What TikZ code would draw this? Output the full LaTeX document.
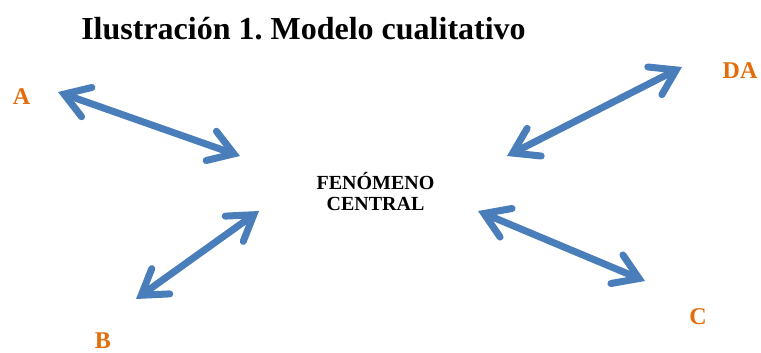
\documentclass[tikz,border=0pt]{standalone}
\usepackage{fontspec}
\setmainfont{Liberation Serif}
\usepackage{xcolor}
\usepackage{tikz}
\usetikzlibrary{positioning,calc,arrows.meta}
\definecolor{flecha}{RGB}{74,126,187}
\definecolor{naranja}{RGB}{228,108,10}
\frenchspacing

\begin{document}
\begin{tikzpicture}[x=1pt, y=-1pt,
    doble/.style={line width=7pt, draw=flecha, line cap=round,
        {Straight Barb[length=24pt, width=31pt, line cap=round, line join=miter]}-{Straight Barb[length=24pt, width=31pt, line cap=round, line join=miter]}},
    letra/.style={text=naranja, font=\fontsize{24}{26}\selectfont\bfseries, inner sep=0pt, anchor=base}]
    \useasboundingbox (0,0) rectangle (761,353);

    \node[font=\fontsize{32}{36}\selectfont\bfseries, anchor=base, inner sep=0pt] (titulo) at (303.5,40) {Ilustración 1. Modelo cualitativo};

    % fenomeno central
    \node[font=\fontsize{20}{21.5}\selectfont\bfseries, align=center, inner sep=0pt, anchor=base] (centro) at (375.5,210.5) {FENÓMENO\\CENTRAL};

    % etiquetas
    \node[letra] (A) at (21.5,104) {A};
    \node[letra] (DA) at (740,79) {DA};
    \node[letra] (B) at (103,348) {B};
    \node[letra] (C) at (698,324) {C};

    % extremos de las flechas
    \coordinate (a1) at (58,92);
    \coordinate (a2) at (240,156);
    \coordinate (d1) at (682,67);
    \coordinate (d2) at (507,156);
    \coordinate (b1) at (259,211);
    \coordinate (b2) at (136,299);
    \coordinate (c1) at (478,211);
    \coordinate (c2) at (645,281);

    \draw[doble] (a1) -- (a2);
    \draw[doble] (d1) -- (d2);
    \draw[doble] (b1) -- (b2);
    \draw[doble] (c1) -- (c2);
\end{tikzpicture}
\end{document}
